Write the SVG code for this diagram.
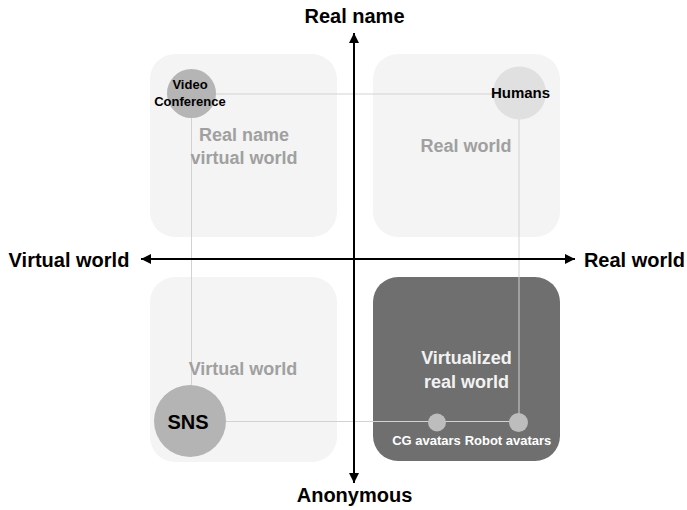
<svg xmlns="http://www.w3.org/2000/svg" width="687" height="510" viewBox="0 0 687 510">
  <style>
    text { font-family: "Liberation Sans", Arial, sans-serif; font-weight: bold; text-anchor: middle; }
    .quad { fill: #f4f4f4; }
    .quad-dark { fill: #6f6f6f; }
    .qlabel { font-size: 18px; fill: #a0a0a0; }
    .qlabel-dark { font-size: 18px; fill: #f2f2f2; }
    .axis { stroke: #000; stroke-width: 2; fill: none; }
    .axislabel { font-size: 20px; fill: #000; }
    .link { stroke: #d2d2d2; stroke-width: 1; fill: none; }
    .dot { fill: #bdbdbd; }
    .small-white { font-size: 13px; fill: #ffffff; }
  </style>
  <defs>
    <marker id="arrow" viewBox="0 0 10 10" refX="10" refY="5" markerWidth="5" markerHeight="5" orient="auto" markerUnits="strokeWidth">
      <path d="M0,0 L10,5 L0,10 z" fill="#000"/>
    </marker>
  </defs>
  <rect width="687" height="510" fill="#ffffff"/>

  <g id="quadrant-real-name-virtual-world">
    <rect class="quad" x="150" y="54" width="187" height="183" rx="25"/>
  </g>
  <g id="quadrant-real-world">
    <rect class="quad" x="373" y="54" width="187" height="183" rx="25"/>
  </g>
  <g id="quadrant-virtual-world">
    <rect class="quad" x="150" y="277" width="187" height="185" rx="25"/>
  </g>
  <g id="quadrant-virtualized-real-world">
    <rect class="quad-dark" x="373" y="277" width="187" height="184" rx="25"/>
  </g>

  <g id="connectors">
    <line class="link" x1="192" y1="94" x2="519" y2="94"/>
    <line class="link" x1="191.5" y1="94" x2="191.5" y2="421"/>
    <line class="link" x1="519" y1="94" x2="519" y2="422"/>
    <line class="link" x1="190" y1="421.5" x2="519" y2="421.5"/>
  </g>

  <g id="axes">
    <line class="axis" x1="354" y1="478" x2="354" y2="33" marker-end="url(#arrow)"/>
    <line class="axis" x1="354" y1="40" x2="354" y2="483" marker-end="url(#arrow)"/>
    <line class="axis" x1="354" y1="259" x2="141" y2="259" marker-end="url(#arrow)"/>
    <line class="axis" x1="354" y1="259" x2="575" y2="259" marker-end="url(#arrow)"/>
  </g>

  <g id="label-real-name"><text class="axislabel" x="354.5" y="23">Real name</text></g>
  <g id="label-anonymous"><text class="axislabel" x="354.5" y="502">Anonymous</text></g>
  <g id="label-virtual-world"><text class="axislabel" x="69" y="267">Virtual world</text></g>
  <g id="label-real-world"><text class="axislabel" x="634.5" y="267">Real world</text></g>

  <g id="text-real-name-virtual-world">
    <text class="qlabel" x="244" y="141">Real name</text>
    <text class="qlabel" x="244" y="164">virtual world</text>
  </g>
  <g id="text-real-world"><text class="qlabel" x="466" y="152">Real world</text></g>
  <g id="text-virtual-world"><text class="qlabel" x="243" y="375">Virtual world</text></g>
  <g id="text-virtualized-real-world">
    <text class="qlabel-dark" x="466.5" y="364">Virtualized</text>
    <text class="qlabel-dark" x="466.5" y="388">real world</text>
  </g>

  <g id="node-video-conference">
    <circle cx="191.5" cy="93.5" r="24.5" fill="#b5b5b5"/>
    <text x="190" y="89" font-size="13" fill="#000">Video</text>
    <text x="190" y="106" font-size="13" fill="#000">Conference</text>
  </g>
  <g id="node-humans">
    <circle cx="519.5" cy="93" r="26.5" fill="#e0e0e0"/>
    <text x="520.5" y="98" font-size="15" fill="#000">Humans</text>
  </g>
  <g id="node-sns">
    <circle cx="190" cy="421" r="36" fill="#b4b4b4"/>
    <text x="188" y="429" font-size="20" fill="#000">SNS</text>
  </g>
  <g id="node-cg-avatars">
    <circle class="dot" cx="437" cy="422.5" r="9"/>
    <text class="small-white" x="426.5" y="445">CG avatars</text>
  </g>
  <g id="node-robot-avatars">
    <circle class="dot" cx="518.5" cy="422.5" r="9.5"/>
    <text class="small-white" x="508" y="445">Robot avatars</text>
  </g>
</svg>
